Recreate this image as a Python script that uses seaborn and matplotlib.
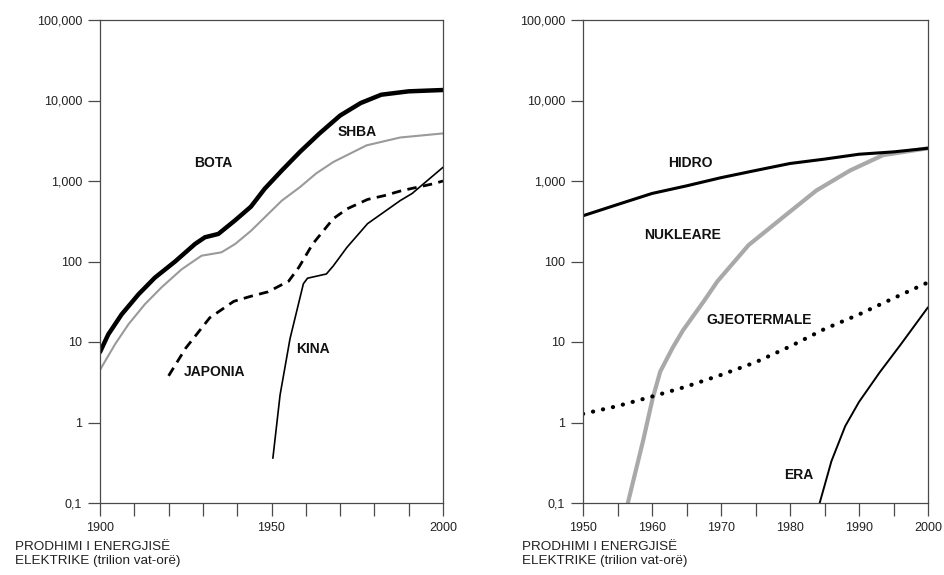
import matplotlib
matplotlib.use("Agg")
import matplotlib.pyplot as plt
import seaborn as sns
import pandas as pd
from matplotlib.ticker import FixedLocator, FixedFormatter, NullLocator

# ---------------- data ----------------
bota_years = [1900, 1902.4, 1906.3, 1911.2, 1916, 1921.9, 1927.7, 1930.6, 1934.5, 1939.4,
              1944, 1948, 1953, 1958.3, 1964, 1970, 1976, 1982, 1990, 2000]
bota_vals = [7.5, 12.4, 22, 39, 63, 100, 165, 200, 220, 325,
             480, 800, 1350, 2300, 3900, 6500, 9300, 11800, 13000, 13500]

shba_years = [1900, 1904.4, 1908.3, 1913.1, 1918, 1923.8, 1929.6, 1935.4, 1939.4, 1944,
              1953, 1958.3, 1963, 1968, 1977.7, 1987.5, 2000]
shba_vals = [4.5, 9.4, 16.6, 29.5, 48, 80, 118, 130, 165, 240,
             570, 840, 1240, 1720, 2770, 3470, 3900]

japonia_years = [1920, 1925, 1932, 1939, 1944, 1949, 1955, 1958, 1962, 1968, 1972, 1978,
                 1983, 1988, 1997, 2000]
japonia_vals = [3.8, 8.4, 20, 32, 37, 42, 57, 85, 165, 340, 450, 590,
                660, 760, 920, 1000]

kina_years = [1950.4, 1952.5, 1955.4, 1959.3, 1960.5, 1966, 1968, 1972, 1978, 1987.5, 1991, 2000]
kina_vals = [0.36, 2.2, 11, 53, 62, 70, 88, 150, 295, 570, 700, 1480]

hidro_years = [1950, 1955, 1960, 1965, 1970, 1975, 1980, 1985, 1990, 1995, 2000]
hidro_vals = [370, 510, 700, 870, 1100, 1350, 1650, 1870, 2150, 2300, 2550]

nukleare_years = [1956.5, 1958.7, 1960.1, 1961.2, 1963, 1964.5, 1967.5, 1969.5, 1974, 1979,
                  1983.8, 1988.7, 1993.5, 2000]
nukleare_vals = [0.1, 0.59, 2.0, 4.3, 8.5, 14, 32, 57, 160, 355,
                 760, 1350, 2100, 2550]

gjeo_years = [1950, 1955, 1960, 1965, 1970, 1975, 1980, 1985, 1990, 1995, 2000]
gjeo_vals = [1.28, 1.6, 2.1, 2.8, 3.9, 5.6, 8.8, 14.5, 22, 35, 55]

era_years = [1984.3, 1986, 1988, 1990, 1993, 1996, 2000]
era_vals = [0.1, 0.33, 0.9, 1.8, 4.2, 9.2, 27]

y_ticks = [0.1, 1, 10, 100, 1000, 10000, 100000]
y_tick_labels = ["0,1", "1", "10", "100", "1,000", "10,000", "100,000"]

left_xticks = list(range(1900, 2001, 10))
left_xlabels = ["1900", "", "", "", "", "1950", "", "", "", "", "2000"]
right_xticks = list(range(1950, 2001, 5))
right_xlabels = ["1950", "", "1960", "", "1970", "", "1980", "", "1990", "", "2000"]

axis_caption = "PRODHIMI I ENERGJISË\nELEKTRIKE (trilion vat-orë)"

# ---------------- style ----------------
sns.set_theme(style="ticks")
plt.rcParams["font.family"] = ["Liberation Sans", "DejaVu Sans"]

SPINE = "#4a4a4a"

fig = plt.figure(figsize=(9.45, 5.75), dpi=100)
ax1 = fig.add_axes([100 / 945, 1 - 503 / 575, 343 / 945, 483 / 575])
ax2 = fig.add_axes([583 / 945, 1 - 503 / 575, 345 / 945, 483 / 575])


def draw(ax, years, vals, **kw):
    df = pd.DataFrame({"year": years, "value": vals})
    sns.lineplot(data=df, x="year", y="value", ax=ax, estimator=None,
                 sort=False, legend=False, **kw)


# left panel
draw(ax1, shba_years, shba_vals, color="#9a9a9a", linewidth=1.5)
draw(ax1, bota_years, bota_vals, color="black", linewidth=3.2,
     solid_joinstyle="round")
draw(ax1, japonia_years, japonia_vals, color="black", linewidth=2.0,
     linestyle=(0, (3.4, 2.3)))
draw(ax1, kina_years, kina_vals, color="black", linewidth=1.2)

# right panel
draw(ax2, nukleare_years, nukleare_vals, color="#a9a9a9", linewidth=3.0,
     solid_joinstyle="round")
draw(ax2, hidro_years, hidro_vals, color="black", linewidth=2.2)
draw(ax2, gjeo_years, gjeo_vals, color="black", linewidth=3.0,
     linestyle=(0, (0.05, 2.4)), dash_capstyle="round")
draw(ax2, era_years, era_vals, color="black", linewidth=1.4)

for ax, xt, xl, xlim in [(ax1, left_xticks, left_xlabels, (1900, 2000)),
                         (ax2, right_xticks, right_xlabels, (1950, 2000))]:
    ax.set_yscale("log")
    ax.set_ylim(0.1, 100000)
    ax.set_xlim(*xlim)
    ax.yaxis.set_major_locator(FixedLocator(y_ticks))
    ax.yaxis.set_major_formatter(FixedFormatter(y_tick_labels))
    ax.yaxis.set_minor_locator(NullLocator())
    ax.xaxis.set_major_locator(FixedLocator(xt))
    ax.xaxis.set_major_formatter(FixedFormatter(xl))
    ax.xaxis.set_minor_locator(NullLocator())
    ax.set_xlabel("")
    ax.set_ylabel("")
    ax.tick_params(axis="both", direction="out", length=9, width=0.9,
                   color=SPINE, labelsize=9, labelcolor="#222222")
    ax.tick_params(axis="y", pad=4)
    ax.tick_params(axis="x", pad=5)
    for s in ax.spines.values():
        s.set_color(SPINE)
        s.set_linewidth(0.9)
    ax.set_facecolor("white")

lab = dict(fontsize=10, fontweight="bold", color="#111111", ha="center", va="center")
ax1.text(1933, 1650, "BOTA", **lab)
ax1.text(1975, 4100, "SHBA", **lab)
ax1.text(1933.5, 4.2, "JAPONIA", **lab)
ax1.text(1962, 8.3, "KINA", **lab)

ax2.text(1965.5, 1650, "HIDRO", **lab)
ax2.text(1964.5, 215, "NUKLEARE", **lab)
ax2.text(1975.5, 19, "GJEOTERMALE", **lab)
ax2.text(1981.3, 0.22, "ERA", **lab)

fig.text(15 / 945, 1 - 541 / 575, axis_caption, fontsize=9.7, va="top", ha="left",
         color="#222222", linespacing=1.2)
fig.text(522 / 945, 1 - 541 / 575, axis_caption, fontsize=9.7, va="top", ha="left",
         color="#222222", linespacing=1.2)

fig.savefig("out.png", dpi=100, facecolor="white")
